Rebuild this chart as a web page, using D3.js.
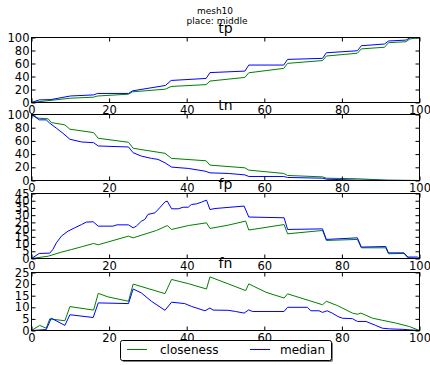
<!DOCTYPE html>
<html>
<head>
<meta charset="utf-8">
<script src="https://cdn.jsdelivr.net/npm/d3@7"></script>
<style>
  html, body { margin: 0; padding: 0; background: #fff; }
  svg { display: block; font-family: "DejaVu Sans", sans-serif; }
</style>
</head>
<body>
<svg id="chart" width="430" height="365"></svg>
<script>
// ---------------- data ----------------
const suptitleLines = ["mesh10", "place: middle"];
const panelNames = ["tp", "tn", "fp", "fn"];
const seriesNames = ["closeness", "median"];

const tpTicks = [0, 20, 40, 60, 80, 100];
const tnTicks = [0, 20, 40, 60, 80, 100];
const fpTicks = [0, 5, 10, 15, 20, 25, 30, 35, 40, 45];
const fnTicks = [0, 5, 10, 15, 20, 25];
const xTicks = [0, 20, 40, 60, 80, 100];

// tp
const tpClosenessX = [0, 10, 16, 17, 25, 26, 34.5, 36, 45, 46, 55, 56, 65, 66, 75, 76, 84, 85, 91, 92, 96.5, 97.5, 100];
const tpCloseness  = [0, 6.6, 8.2, 10, 12.8, 16.4, 20.5, 24.7, 27.5, 33, 38.6, 45.7, 52.5, 60.2, 64.5, 71.5, 75.8, 82.5, 85, 92, 93.5, 97.7, 100];
const tpMedianX = [0, 2, 5, 10, 16, 17, 25, 26, 34.5, 36, 45, 46, 55, 56, 65, 66, 75, 76, 84, 85, 91, 92, 96.5, 97.5, 100];
const tpMedian  = [0, 4, 4.5, 10, 11.7, 13.9, 13.9, 17.9, 26.2, 33.9, 37, 46, 48.3, 57.6, 57.6, 66.3, 67.9, 76.5, 79.6, 87.3, 90, 94.6, 96, 99.5, 100];

// tn
const tnClosenessX = [0, 1.7, 4.3, 5.1, 8.6, 9.9, 16, 17.2, 25, 26.2, 34.4, 36.1, 45, 46, 55, 56, 65, 66, 75, 76, 84, 92, 100];
const tnCloseness  = [100, 94.5, 93.4, 87.8, 84.3, 77.7, 72.6, 64, 57.9, 48.8, 41.2, 33.5, 29.9, 23.3, 19.2, 15.7, 10.7, 7.6, 5.5, 3.5, 2.6, 0.4, 0];
const tnMedianX = [0, 2, 3.8, 4.7, 6.4, 8.1, 9.9, 12.9, 16, 17.2, 25, 26.2, 28.3, 30.9, 32.6, 34.4, 36.1, 40.4, 44.7, 46, 50.7, 55, 56, 65, 66, 75, 76, 84, 100];
const tnMedian  = [100, 91.9, 91.9, 86.9, 79.3, 71.6, 62.5, 58.4, 57.3, 52.3, 50.8, 42.1, 37, 33.5, 32, 26.8, 20.3, 18.3, 14.2, 11.6, 10.7, 8.5, 6.1, 6.1, 4.6, 3.5, 2, 0.5, 0];

// fp
const fpClosenessX = [0, 4.3, 7.7, 10.3, 12.9, 16, 17.2, 25, 26.2, 32.2, 35, 36.1, 40.4, 45.1, 46, 50.7, 55.2, 56, 65.1, 66, 75, 76, 84, 85, 91.3, 92, 96, 97, 100];
const fpCloseness  = [0, 1.6, 4.4, 6.2, 8.1, 10.4, 9.5, 15.5, 14.3, 19.4, 22.8, 20.1, 22.8, 24.7, 20.8, 23.1, 25.9, 19.7, 23.5, 17.1, 19.4, 12.5, 13.2, 7.4, 7.4, 3.3, 3.5, 0.5, 0];
const fpMedianX = [0, 2, 4.7, 5.5, 6.4, 7.7, 9.4, 11.1, 12.9, 14.1, 15.9, 17.2, 21, 22, 25, 26.2, 27, 28.3, 29.2, 30, 31.8, 33, 34.4, 35, 36.1, 37.8, 39.1, 40.4, 41.2, 42.5, 43.8, 45.1, 46, 47.3, 54.8, 56, 65.1, 66, 75, 76, 84, 85, 91.3, 92, 96, 97, 99.5, 100];
const fpMedian  = [0, 3.5, 3.7, 6.2, 10.8, 15.5, 18.9, 21.2, 23.5, 25.2, 25.4, 22.4, 22.4, 23.3, 23.3, 21.2, 22.4, 25.8, 27, 30.5, 31.6, 35, 39.2, 39.7, 34.4, 34.4, 35.5, 35.5, 37.4, 37.8, 39, 40.4, 33.9, 34.6, 36.3, 28.7, 28.2, 20.1, 20.5, 13.2, 14.3, 7.9, 8.3, 3.9, 3.9, 1, 1, 0];

// fn
const fnClosenessX = [0, 2.1, 3.8, 4.7, 8.6, 9.9, 16, 17.2, 19.7, 25, 26.2, 34.4, 36.1, 40.4, 45.1, 46, 50.7, 55.2, 56, 60.4, 65.1, 66, 75, 76, 78.9, 82.7, 84, 84.9, 87.9, 93.9, 97.4, 100];
const fnCloseness  = [0, 2.2, 1.0, 5.0, 4.2, 10.3, 8.8, 16, 14.5, 12.6, 20, 15.9, 22, 20.2, 17.9, 23.1, 20.1, 17.2, 20.1, 16.5, 14, 15.8, 11.1, 12.6, 10.7, 7.5, 7.0, 7.5, 5.3, 3.2, 1.7, 0];
const fnMedianX = [0, 3.8, 5.1, 8.6, 9.9, 15.9, 17.2, 25, 26.2, 28.3, 30.9, 34.4, 36.1, 39.5, 41.2, 44.7, 46, 46.8, 50.7, 52.6, 54.8, 56, 56.9, 65.1, 66, 71.1, 72, 74.1, 75, 76.2, 77.5, 78.9, 80.1, 82.7, 84, 86.2, 88.7, 90.4, 92.2, 95.6, 100];
const fnMedian  = [0, 0.4, 5.3, 2.2, 6.8, 5.6, 11.9, 11.6, 17.9, 16.2, 12.6, 8.7, 12.2, 11.6, 10.4, 8.5, 9.7, 8.8, 8.7, 8.2, 7.5, 8.9, 8.2, 8.2, 10, 10, 8.5, 8.5, 7.8, 8.5, 7.5, 6.1, 5.3, 5.1, 3.9, 3.9, 2.2, 1, 0.7, 0.5, 0];

// ---------------- layout ----------------
const colors = { closeness: "#008000", median: "#0000ff" };
const plotLeft = 31.5, plotRight = 419.5;
const panels = [
  { name: panelNames[0], top: 37.5,  bottom: 102.5, ymax: 100, ticks: tpTicks,
    series: [[tpClosenessX, tpCloseness], [tpMedianX, tpMedian]] },
  { name: panelNames[1], top: 114.5, bottom: 180.5, ymax: 100, ticks: tnTicks,
    series: [[tnClosenessX, tnCloseness], [tnMedianX, tnMedian]] },
  { name: panelNames[2], top: 193.5, bottom: 258.5, ymax: 45, ticks: fpTicks,
    series: [[fpClosenessX, fpCloseness], [fpMedianX, fpMedian]] },
  { name: panelNames[3], top: 272.5, bottom: 330.5, ymax: 25, ticks: fnTicks,
    series: [[fnClosenessX, fnCloseness], [fnMedianX, fnMedian]] }
];

const svg = d3.select("#chart");
const x = d3.scaleLinear().domain([0, 100]).range([plotLeft, plotRight]);

// suptitle
svg.append("text").attr("x", 215).attr("y", 14).attr("text-anchor", "middle")
  .attr("font-size", "9px").attr("fill", "#000").text(suptitleLines[0]);
svg.append("text").attr("x", 217).attr("y", 23.5).attr("text-anchor", "middle")
  .attr("font-size", "9px").attr("fill", "#000").text(suptitleLines[1]);

panels.forEach((p, i) => {
  const y = d3.scaleLinear().domain([0, p.ymax]).range([p.bottom, p.top]);
  const g = svg.append("g");

  // lines
  const line = d3.line().x(d => x(d[0])).y(d => y(d[1]));
  p.series.forEach((s, k) => {
    const pts = s[0].map((xv, j) => [xv, s[1][j]]);
    g.append("path").datum(pts)
      .attr("d", line)
      .attr("fill", "none")
      .attr("stroke", colors[seriesNames[k]])
      .attr("stroke-width", 1)
      .attr("stroke-linejoin", "round");
  });

  // axes (inward ticks on all sides)
  const styleAxis = sel => {
    sel.select(".domain").remove();
    sel.selectAll(".tick line").attr("stroke", "#000").attr("stroke-width", 1);
    sel.selectAll("text").attr("font-size", "11.5px").attr("fill", "#000")
      .attr("font-family", "DejaVu Sans, sans-serif");
  };
  g.append("g").attr("transform", `translate(${plotLeft},0)`)
    .call(d3.axisLeft(y).tickValues(p.ticks).tickSizeInner(-4).tickSizeOuter(0).tickPadding(2))
    .call(styleAxis);
  g.append("g").attr("transform", `translate(${plotRight},0)`)
    .call(d3.axisRight(y).tickValues(p.ticks).tickSizeInner(-4).tickSizeOuter(0).tickFormat(""))
    .call(styleAxis);
  g.append("g").attr("transform", `translate(0,${p.bottom})`)
    .call(d3.axisBottom(x).tickValues(xTicks).tickSizeInner(-4).tickSizeOuter(0).tickPadding(3.5))
    .call(styleAxis);
  g.append("g").attr("transform", `translate(0,${p.top})`)
    .call(d3.axisTop(x).tickValues(xTicks).tickSizeInner(-4).tickSizeOuter(0).tickFormat(""))
    .call(styleAxis);

  // frame
  g.append("rect").attr("x", plotLeft).attr("y", p.top)
    .attr("width", plotRight - plotLeft).attr("height", p.bottom - p.top)
    .attr("fill", "none").attr("stroke", "#000").attr("stroke-width", 1);

  // title
  svg.append("text").attr("x", (plotLeft + plotRight) / 2).attr("y", p.top - 4.8)
    .attr("text-anchor", "middle").attr("font-size", "14px").attr("fill", "#000")
    .text(p.name);
});

// legend
const lg = svg.append("g");
lg.append("rect").attr("x", 122).attr("y", 342).attr("width", 211).attr("height", 20)
  .attr("rx", 2).attr("fill", "#808080");
lg.append("rect").attr("x", 120.5).attr("y", 340.5).attr("width", 211).attr("height", 20)
  .attr("rx", 2).attr("fill", "#fff").attr("stroke", "#000").attr("stroke-width", 1);
const legendItems = [
  { name: seriesNames[0], lx: 127, tx: 160 },
  { name: seriesNames[1], lx: 250, tx: 280 }
];
legendItems.forEach(it => {
  lg.append("line").attr("x1", it.lx).attr("x2", it.lx + 20)
    .attr("y1", 349.5).attr("y2", 349.5)
    .attr("stroke", colors[it.name]).attr("stroke-width", 1);
  lg.append("text").attr("x", it.tx).attr("y", 354).attr("font-size", "12px")
    .attr("fill", "#000").text(it.name);
});
</script>
</body>
</html>
